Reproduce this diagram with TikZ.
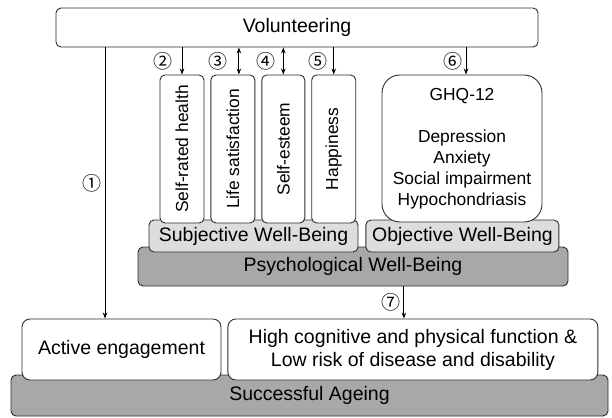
\documentclass[tikz,border=0pt]{standalone}
\usepackage{fontspec}
\setmainfont{Liberation Sans}
\newfontfamily\numfont{Noto Sans CJK SC}
\usetikzlibrary{positioning,arrows.meta}
\definecolor{boxline}{RGB}{45,45,45}
\definecolor{lightgrey}{RGB}{221,221,221}
\definecolor{darkgrey}{RGB}{168,168,168}
\newcommand{\bigsize}{\fontsize{19.5}{23}\selectfont}
\newcommand{\smallsize}{\fontsize{17.4}{21}\selectfont}
\tikzset{
  box/.style={rectangle,rounded corners=5pt,draw=boxline,line width=0.9pt,fill=white,inner sep=0pt,align=center,font=\bigsize},
  slim/.style={box,minimum width=44pt,minimum height=148pt,font=\smallsize},
  lightbox/.style={box,fill=lightgrey},
  darkbox/.style={box,fill=darkgrey},
  edge/.style={-{Stealth[length=6pt,width=4.5pt]},line width=1pt},
  twoway/.style={{Stealth[length=6pt,width=4.5pt]}-{Stealth[length=6pt,width=4.5pt]},line width=1pt},
  num/.style={font=\numfont\fontsize{19}{19}\selectfont,inner sep=0pt}
}
\begin{document}
\begin{tikzpicture}[x=1pt,y=-1pt]
  \useasboundingbox (0,0) rectangle (612,417);
  \node[box,minimum width=482pt,minimum height=39pt] (vol) at (297,27.5) {Volunteering};
  \node[darkbox,minimum width=430pt,minimum height=39pt] (psy) at (353,266.5) {Psychological Well-Being};
  \node[lightbox,minimum width=209pt,minimum height=32pt] (sub) at (253.5,236) {Subjective Well-Being};
  \node[lightbox,minimum width=193pt,minimum height=32pt,right=7pt of sub] (obj) {Objective Well-Being};
  \node[slim] (srh) at (182,149) {\rotatebox{90}{Self-rated health}};
  \node[slim,right=6pt of srh] (lsat) {\rotatebox{90}{Life satisfaction}};
  \node[slim,minimum width=43pt,right=6pt of lsat] (est) {\rotatebox{90}{Self-esteem}};
  \node[slim,right=6pt of est] (hap) {\rotatebox{90}{Happiness}};
  \node[box,rounded corners=18pt,minimum width=160pt,minimum height=147pt,font=\smallsize] (ghq) at (462,148.5)
    {GHQ-12\\[21pt]Depression\\Anxiety\\Social impairment\\Hypochondriasis};
  \node[darkbox,minimum width=597pt,minimum height=41pt] (age) at (309.5,395.5) {Successful Ageing};
  \node[box,rounded corners=8pt,minimum width=199pt,minimum height=61pt] (act) at (121.5,349.5) {Active engagement};
  \node[box,rounded corners=8pt,minimum width=370pt,minimum height=61pt,right=6pt of act] (fun)
    {High cognitive and physical function \&\\Low risk of disease and disability};

  \coordinate (a1) at ([xshift=-16.5pt]act.north);
  \coordinate (a3) at ([xshift=6pt]lsat.north);
  \coordinate (a6) at ([xshift=4pt]ghq.north);
  \coordinate (a7) at ([xshift=-9pt]fun.north);
  \draw[edge] (vol.south -| a1) -- node[num,left=3pt]{①} (a1);
  \draw[edge] (vol.south -| srh.north) -- node[num,left=9pt]{②} (srh.north);
  \draw[twoway] (vol.south -| a3) -- node[num,left=11pt]{③} (a3);
  \draw[twoway] (vol.south -| est.north) -- node[num,left=7pt]{④} (est.north);
  \draw[edge] (vol.south -| hap.north) -- node[num,left=6pt]{⑤} (hap.north);
  \draw[edge] (vol.south -| a6) -- node[num,left=3pt]{⑥} (a6);
  \draw[edge] (psy.south -| a7) -- node[num,left=3pt]{⑦} (a7);
\end{tikzpicture}
\end{document}
